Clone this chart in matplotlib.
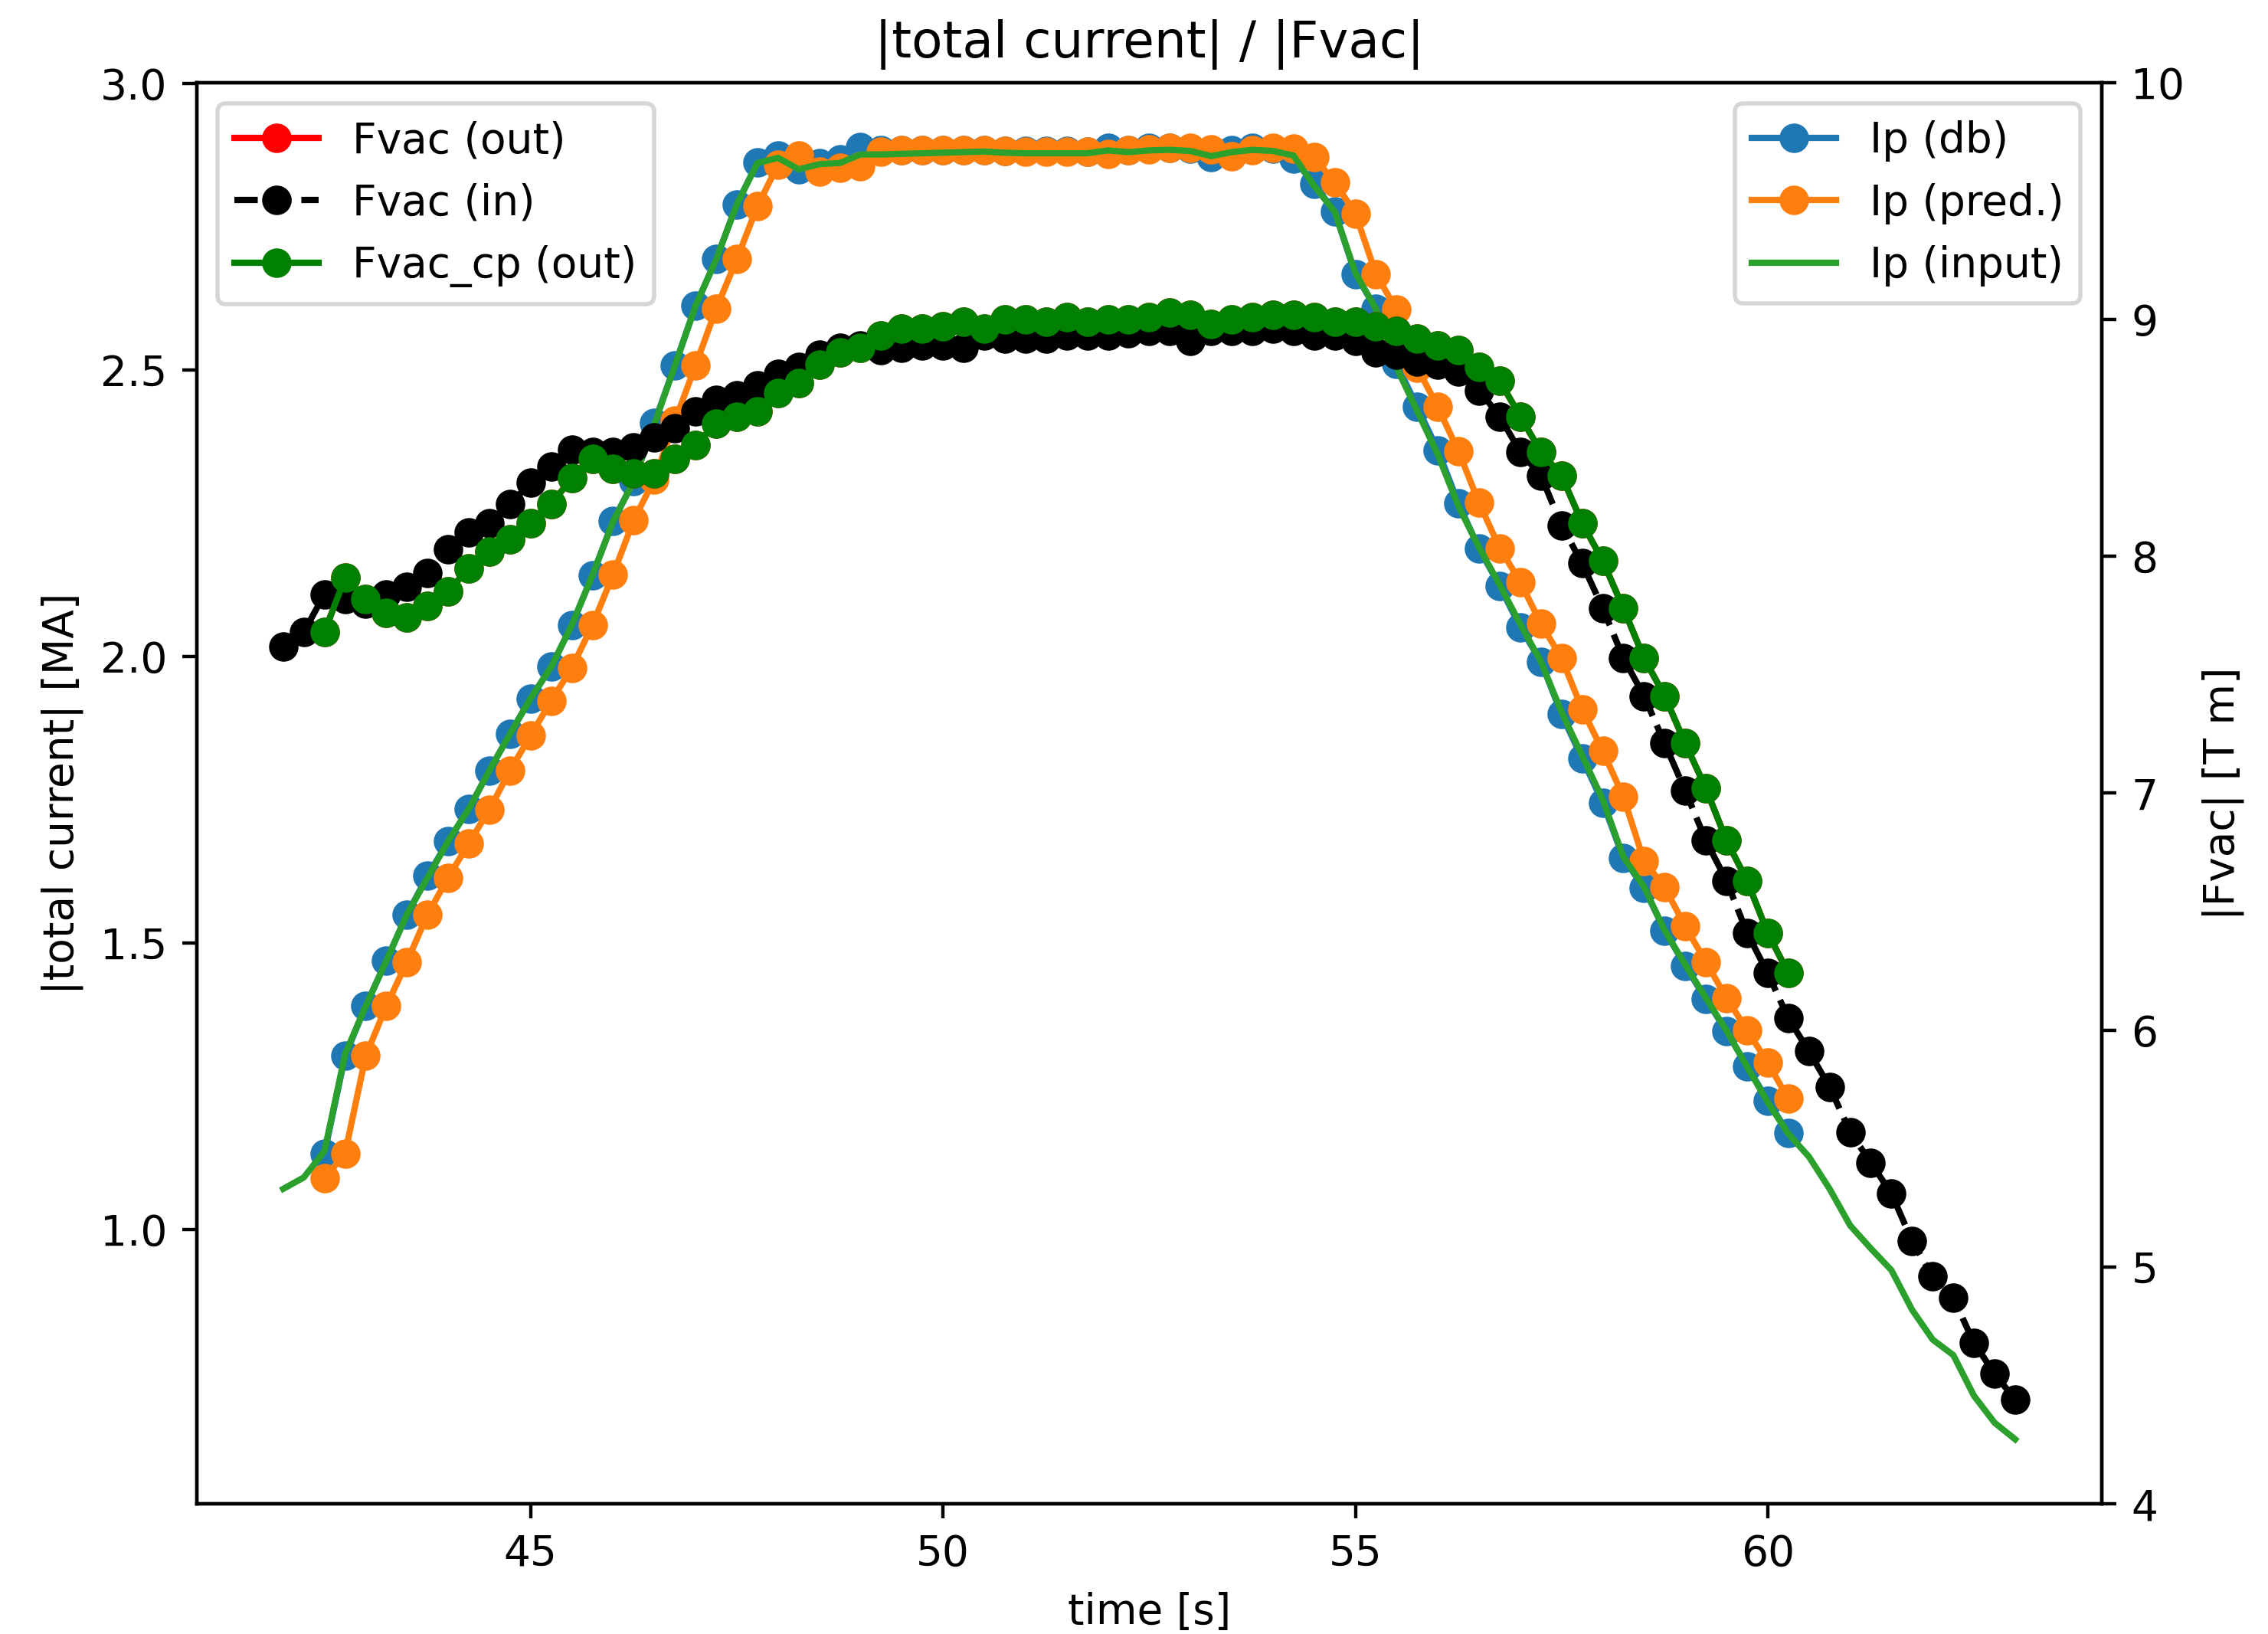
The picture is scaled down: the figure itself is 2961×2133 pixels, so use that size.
import numpy as np
import matplotlib
matplotlib.use('Agg')
from matplotlib import pyplot as plt

# time grid, 0.25 s sampling
t_in = np.arange(42.0, 63.001, 0.25)     # 42.0 .. 63.0
t_out = np.arange(42.5, 60.251, 0.25)    # 42.5 .. 60.25

ip_input = [1.071, 1.091, 1.137, 1.306, 1.390, 1.469, 1.550, 1.614, 1.678, 1.734,
            1.801, 1.865, 1.927, 1.982, 2.055, 2.142, 2.236, 2.306, 2.405, 2.508,
            2.612, 2.693, 2.789, 2.861, 2.870, 2.850, 2.859, 2.861, 2.876, 2.876,
            2.877, 2.878, 2.879, 2.880, 2.881, 2.879, 2.878, 2.878, 2.878, 2.878,
            2.883, 2.880, 2.883, 2.884, 2.882, 2.873, 2.880, 2.884, 2.882, 2.874,
            2.821, 2.776, 2.669, 2.606, 2.504, 2.428, 2.352, 2.262, 2.190, 2.125,
            2.056, 1.991, 1.903, 1.827, 1.750, 1.650, 1.598, 1.522, 1.462, 1.404,
            1.347, 1.284, 1.222, 1.167, 1.127, 1.071, 1.007, 0.967, 0.929, 0.860,
            0.808, 0.781, 0.710, 0.663, 0.634]

ip_db = [1.133, 1.303, 1.390, 1.469, 1.550, 1.617, 1.678, 1.734, 1.801, 1.865,
         1.927, 1.982, 2.055, 2.142, 2.236, 2.306, 2.408, 2.508, 2.612, 2.693,
         2.789, 2.862, 2.874, 2.850, 2.861, 2.868, 2.889, 2.883, 2.883, 2.884,
         2.884, 2.884, 2.883, 2.882, 2.882, 2.882, 2.882, 2.881, 2.887, 2.884,
         2.887, 2.888, 2.886, 2.871, 2.884, 2.888, 2.886, 2.869, 2.824, 2.776,
         2.667, 2.607, 2.511, 2.435, 2.360, 2.267, 2.188, 2.123, 2.051, 1.991,
         1.899, 1.822, 1.745, 1.648, 1.596, 1.522, 1.460, 1.402, 1.346, 1.285,
         1.225, 1.168]

ip_pred = [1.089, 1.133, 1.303, 1.390, 1.467, 1.550, 1.614, 1.674, 1.733, 1.801,
           1.862, 1.923, 1.980, 2.055, 2.143, 2.238, 2.309, 2.411, 2.508, 2.607,
           2.693, 2.786, 2.858, 2.874, 2.846, 2.853, 2.855, 2.881, 2.884, 2.884,
           2.884, 2.884, 2.883, 2.882, 2.881, 2.881, 2.881, 2.881, 2.877, 2.884,
           2.885, 2.887, 2.887, 2.885, 2.873, 2.883, 2.887, 2.886, 2.871, 2.827,
           2.773, 2.667, 2.605, 2.504, 2.435, 2.358, 2.268, 2.189, 2.130, 2.057,
           1.997, 1.908, 1.835, 1.755, 1.643, 1.597, 1.529, 1.467, 1.404, 1.348,
           1.291, 1.228]

fvac_in = [7.62, 7.68, 7.84, 7.82, 7.80, 7.84, 7.87, 7.93, 8.03, 8.10,
           8.14, 8.22, 8.31, 8.38, 8.45, 8.44, 8.44, 8.46, 8.50, 8.54,
           8.61, 8.66, 8.68, 8.72, 8.77, 8.80, 8.85, 8.88, 8.89, 8.87,
           8.88, 8.89, 8.89, 8.88, 8.93, 8.92, 8.92, 8.92, 8.93, 8.93,
           8.93, 8.94, 8.95, 8.95, 8.91, 8.95, 8.95, 8.95, 8.96, 8.95,
           8.93, 8.93, 8.91, 8.86, 8.85, 8.82, 8.81, 8.78, 8.70, 8.59,
           8.44, 8.34, 8.13, 7.97, 7.78, 7.57, 7.41, 7.21, 7.01, 6.80,
           6.63, 6.41, 6.24, 6.05, 5.91, 5.76, 5.57, 5.44, 5.31, 5.11,
           4.96, 4.87, 4.68, 4.55, 4.44]

fvac_cp_out = [7.68, 7.91, 7.82, 7.76, 7.74, 7.79, 7.85, 7.95, 8.02, 8.07,
               8.14, 8.22, 8.33, 8.41, 8.37, 8.35, 8.35, 8.41, 8.47, 8.56,
               8.59, 8.61, 8.69, 8.73, 8.81, 8.86, 8.88, 8.93, 8.96, 8.96,
               8.97, 8.99, 8.96, 9.00, 9.00, 8.99, 9.01, 8.99, 9.00, 9.00,
               9.01, 9.03, 9.02, 8.98, 9.00, 9.01, 9.02, 9.02, 9.01, 8.99,
               8.99, 8.97, 8.95, 8.92, 8.89, 8.87, 8.80, 8.74, 8.59, 8.44,
               8.34, 8.14, 7.98, 7.78, 7.57, 7.41, 7.21, 7.02, 6.80, 6.63,
               6.41, 6.24]

# Fvac (out) is completely hidden under Fvac_cp (out) in the picture
fvac_out = list(fvac_cp_out)

dpi = 396
fig = plt.figure(figsize=(2961 / dpi, 2133 / dpi), dpi=dpi)
ax = fig.add_axes([0.0867, 0.0796, 0.84, 0.870])

ax.plot(t_out, ip_db, 'o-', color='C0', label='Ip (db)')
ax.plot(t_out, ip_pred, 'o-', color='C1', label='Ip (pred.)')
ax.plot(t_in, ip_input, '-', color='C2', label='Ip (input)')
ax.set_xlabel('time [s]')
ax.set_ylabel('|total current| [MA]')
ax.set_title('|total current| / |Fvac|')
ax.legend(loc='upper right')

ax2 = ax.twinx()
ax2.plot(t_out, fvac_out, 'o-', color='red', label='Fvac (out)')
ax2.plot(t_in, fvac_in, 'o--', color='black', label='Fvac (in)')
ax2.plot(t_out, fvac_cp_out, 'o-', color='green', label='Fvac_cp (out)')
ax2.set_ylim(4, 10)
ax2.set_ylabel('|Fvac| [T m]')
ax2.legend(loc='upper left')

fig.savefig('out.png', dpi=dpi)
